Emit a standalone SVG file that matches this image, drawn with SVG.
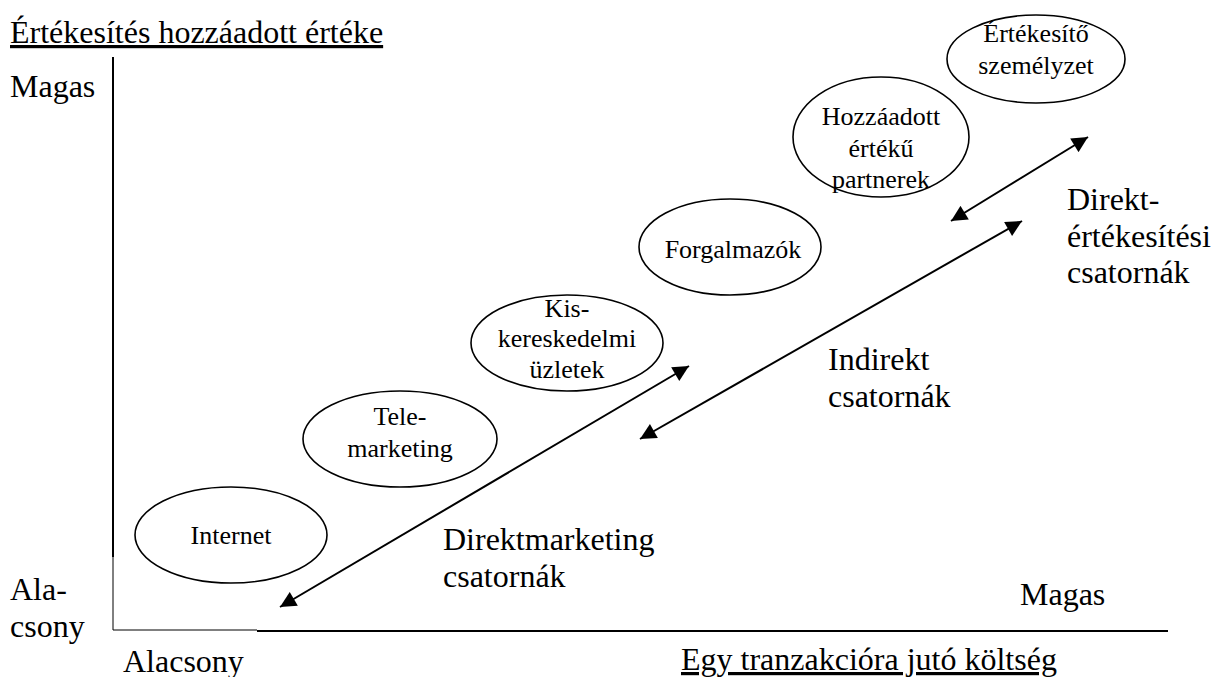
<svg xmlns="http://www.w3.org/2000/svg" width="1211" height="677" viewBox="0 0 1211 677">
  <style>
    .lbl { font-family: "Liberation Serif", "Times New Roman", serif; font-size: 32px; fill: #000; }
    .node text { font-family: "Liberation Serif", "Times New Roman", serif; font-size: 26px; fill: #000; text-anchor: middle; }
    .node ellipse { fill: #fff; stroke: #000; stroke-width: 1.6; }
    .axis { stroke: #000; fill: none; }
    .conn line { stroke: #000; stroke-width: 2; marker-start: url(#tip); marker-end: url(#tip); }
  </style>
  <defs>
    <marker id="tip" viewBox="0 0 10 10" refX="10" refY="5" markerWidth="9" markerHeight="8" markerUnits="strokeWidth" orient="auto-start-reverse">
      <path d="M0,0 L10,5 L0,10 Z" fill="#000"/>
    </marker>
  </defs>
  <rect width="1211" height="677" fill="#fff"/>

  <!-- axes -->
  <g id="axes">
    <line class="axis" x1="113" y1="57" x2="113" y2="557" stroke-width="2"/>
    <line class="axis" x1="113" y1="557" x2="113" y2="630" stroke-width="1"/>
    <line class="axis" x1="113" y1="630" x2="257" y2="630" stroke-width="1"/>
    <line class="axis" x1="257" y1="631" x2="1168" y2="631" stroke-width="2"/>
  </g>

  <!-- axis titles and scale words -->
  <g id="axis-labels">
    <text class="lbl" x="10" y="43" text-decoration="underline">Értékesítés hozzáadott értéke</text>
    <text class="lbl" x="10" y="97">Magas</text>
    <text class="lbl" x="10" y="600">Ala-</text>
    <text class="lbl" x="10" y="637">csony</text>
    <text class="lbl" x="123" y="672">Alacsony</text>
    <text class="lbl" x="1020" y="605">Magas</text>
    <text class="lbl" x="681" y="670" text-decoration="underline">Egy tranzakcióra jutó költség</text>
  </g>

  <!-- channel nodes -->
  <g id="internet" class="node">
    <ellipse cx="231" cy="535" rx="96" ry="48"/>
    <text x="231" y="544">Internet</text>
  </g>
  <g id="telemarketing" class="node">
    <ellipse cx="400" cy="439" rx="97" ry="48"/>
    <text x="400" y="425">Tele-</text>
    <text x="400" y="457">marketing</text>
  </g>
  <g id="kiskereskedelmi" class="node">
    <ellipse cx="567" cy="343" rx="96" ry="48"/>
    <text x="567" y="317">Kis-</text>
    <text x="567" y="347">kereskedelmi</text>
    <text x="567" y="378">üzletek</text>
  </g>
  <g id="forgalmazok" class="node">
    <ellipse cx="730" cy="247" rx="91" ry="48"/>
    <text x="733" y="258">Forgalmazók</text>
  </g>
  <g id="partnerek" class="node">
    <ellipse cx="881" cy="137" rx="88" ry="60"/>
    <text x="881" y="125">Hozzáadott</text>
    <text x="881" y="157">értékű</text>
    <text x="881" y="188">partnerek</text>
  </g>
  <g id="szemelyzet" class="node">
    <ellipse cx="1036" cy="59" rx="89" ry="44"/>
    <text x="1036" y="42">Értékesítő</text>
    <text x="1036" y="74">személyzet</text>
  </g>

  <!-- two-headed range arrows -->
  <g id="connectors" class="conn">
    <line x1="280" y1="607" x2="689" y2="366"/>
    <line x1="640" y1="439" x2="1022" y2="221"/>
    <line x1="951" y1="221" x2="1088" y2="137"/>
  </g>

  <!-- channel group labels -->
  <g id="group-labels">
    <text class="lbl" x="443" y="550">Direktmarketing</text>
    <text class="lbl" x="443" y="587">csatornák</text>
    <text class="lbl" x="828" y="370">Indirekt</text>
    <text class="lbl" x="828" y="407">csatornák</text>
    <text class="lbl" x="1067" y="210">Direkt-</text>
    <text class="lbl" x="1067" y="247">értékesítési</text>
    <text class="lbl" x="1067" y="283">csatornák</text>
  </g>
</svg>
